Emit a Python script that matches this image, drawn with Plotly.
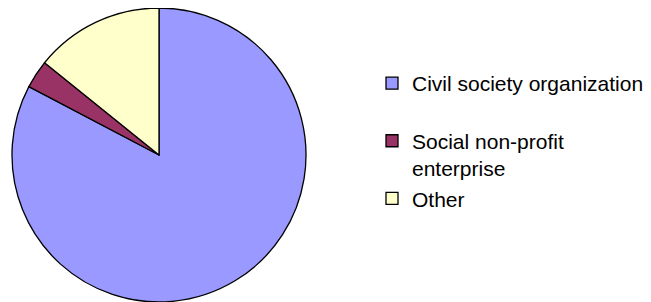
import plotly.graph_objects as go

categories = ["Civil society organization", "Social non-profit<br>enterprise", "Other"]
values = [82.7, 3.1, 14.2]
colors = ["#9999FF", "#993366", "#FFFFCC"]

# legend labels: pad single-line entries so entries are evenly spaced like the original
legend_labels = [categories[0] + "<br> ", categories[1], categories[2]]

# the page body adds an 8px margin; the figure is made a bit wider than the
# visible window so the long legend entry is not clipped by the legend box
W, H = 660, 294

fig = go.Figure(
    go.Pie(
        labels=legend_labels,
        values=values,
        sort=False,
        direction="clockwise",
        rotation=0,
        textinfo="none",
        hoverinfo="label+percent",
        marker=dict(colors=colors, line=dict(color="#000000", width=1.3)),
        domain=dict(x=[4 / W, 298 / W], y=[0, 1]),
    )
)

fig.update_layout(
    width=W,
    height=H,
    margin=dict(l=0, r=0, t=0, b=0),
    paper_bgcolor="#FFFFFF",
    plot_bgcolor="#FFFFFF",
    showlegend=True,
    legend=dict(
        x=364 / W,
        xanchor="left",
        y=1 - 55 / H,
        yanchor="top",
        valign="top",
        font=dict(family="Liberation Sans, Arial, sans-serif", size=21, color="#000000"),
        bgcolor="rgba(0,0,0,0)",
        borderwidth=0,
        traceorder="normal",
    ),
    font=dict(family="Liberation Sans, Arial, sans-serif", color="#000000"),
)

fig.write_html("out.html")
